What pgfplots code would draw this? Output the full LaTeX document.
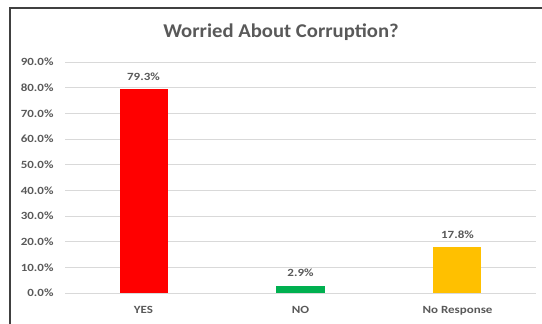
\documentclass[border=0pt]{standalone}
\usepackage{pgfplots}
\pgfplotsset{compat=1.18}
\usepackage{fontspec}
\setmainfont{Carlito}
\newfontfamily\lblfont[FakeStretch=1.18]{Carlito}
\newfontfamily\ttlfont[FakeStretch=1.06]{Carlito}
\definecolor{txt}{RGB}{89,89,89}
\definecolor{grid}{RGB}{217,217,217}
\definecolor{cred}{RGB}{255,0,0}
\definecolor{cgreen}{RGB}{0,176,80}
\definecolor{cyellow}{RGB}{255,192,0}
\begin{document}
\begin{tikzpicture}
\path[use as bounding box] (0pt,0pt) rectangle (542pt,324pt);
\draw[black!75, line width=1.3pt] (10pt,0pt) -- (10pt,316pt) -- (542pt,316pt);
\node[font=\ttlfont\bfseries\fontsize{19.5}{22}\selectfont, text=txt] at (281pt,292pt) {Worried About Corruption?};
\begin{axis}[
  at={(65pt,31pt)}, anchor=south west, scale only axis,
  width=471pt, height=231pt,
  ymin=0, ymax=90, xmin=-0.5, xmax=2.5,
  ytick={0,10,...,90},
  xtick={0,1,2}, xticklabels={YES,NO,No Response},
  axis x line*=bottom, axis y line*=left,
  y axis line style={draw=none},
  x axis line style={draw=grid, line width=0.8pt, -},
  ymajorgrids, grid style={draw=grid, line width=0.8pt},
  major tick length=0pt,
  ticklabel style={font=\lblfont\bfseries\fontsize{11}{13}\selectfont, text=txt},
  /pgf/number format/assume math mode=true,
  yticklabel={\pgfmathprintnumber[fixed,fixed zerofill,precision=1]{\tick}\%},
  yticklabel style={xshift=-8pt},
  xticklabel style={yshift=-10pt},
  ybar, bar width=48pt, bar shift=0pt,
  nodes near coords={\pgfmathprintnumber[fixed,fixed zerofill,precision=1]{\pgfplotspointmeta}\%},
  nodes near coords style={font=\lblfont\bfseries\fontsize{11}{13}\selectfont, text=txt, yshift=5pt},
  clip=false,
]
\addplot[fill=cred, draw=none] coordinates {(0,79.3)};
\addplot[fill=cgreen, draw=none] coordinates {(1,2.9)};
\addplot[fill=cyellow, draw=none] coordinates {(2,17.8)};
\end{axis}
\end{tikzpicture}
\end{document}
